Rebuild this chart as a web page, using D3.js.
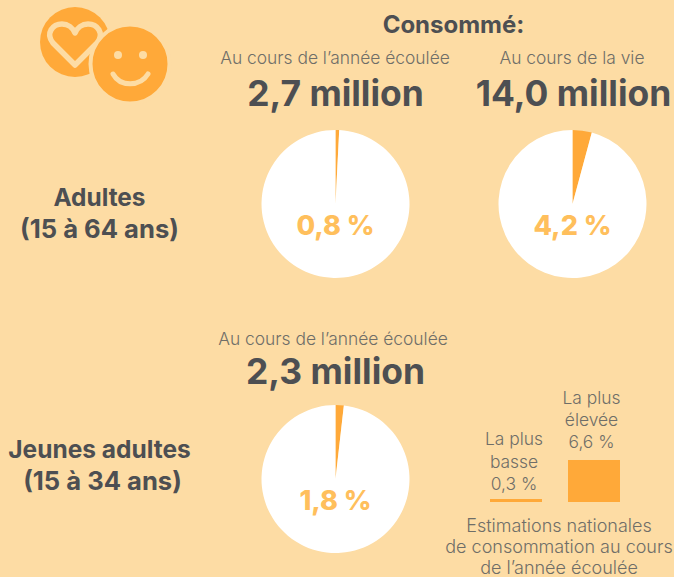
<!DOCTYPE html>
<html lang="fr">
<head>
<meta charset="utf-8">
<style>
html, body { margin: 0; padding: 0; background: #fddca4; }
svg { display: block; }
text { font-family: Inter, "Noto Sans", sans-serif; }
</style>
<script src="https://cdn.jsdelivr.net/npm/d3@7"></script>
</head>
<body>
<div id="chart"></div>
<script>
const pieValues = [0.8, 4.2, 1.8];
const pieLabels = ["0,8 %", "4,2 %", "1,8 %"];
const pieCenters = [[335.5, 204], [572.5, 204], [335.5, 479]];
const headings = ["Au cours de l’année écoulée", "Au cours de la vie", "Au cours de l’année écoulée"];
const totals = ["2,7 million", "14,0 million", "2,3 million"];
const rangeValues = [0.3, 6.6];
const rangeLabels = [["La plus", "basse", "0,3 %"], ["La plus", "élevée", "6,6 %"]];

const width = 674, height = 577;
const orange = "#ffa939", labelOrange = "#ffbf5c", bg = "#fddca4", dark = "#4d4f52", grey = "#6f6e68";

const svg = d3.select("#chart").append("svg")
    .attr("width", width)
    .attr("height", height)
    .attr("viewBox", [0, 0, width, height]);

// icon: heart bubble behind smiley
const icon = svg.append("g");
icon.append("circle").attr("cx", 75).attr("cy", 42).attr("r", 35).attr("fill", orange);
icon.append("path")
    .attr("d", "M75 65 L53 43 C45 33 53 24 62 24 C68 24 73 28 75 33 C77 28 82 24 88 24 C97 24 105 33 97 43 Z")
    .attr("fill", orange)
    .attr("stroke", bg)
    .attr("stroke-width", 5.5)
    .attr("stroke-linejoin", "round");
icon.append("circle").attr("cx", 130).attr("cy", 64).attr("r", 39.5)
    .attr("fill", orange).attr("stroke", bg).attr("stroke-width", 4);
icon.selectAll(".eye").data([118, 143]).join("circle")
    .attr("cx", d => d).attr("cy", 55).attr("r", 4).attr("fill", bg);
icon.append("path")
    .attr("d", "M113 74 C120 87 140 87 148 74")
    .attr("fill", "none").attr("stroke", bg).attr("stroke-width", 5).attr("stroke-linecap", "round");

const textAt = (x, y, str, size, weight, fill) => svg.append("text")
    .attr("x", x).attr("y", y)
    .attr("text-anchor", "middle")
    .attr("font-size", size)
    .attr("font-weight", weight)
    .attr("fill", fill)
    .text(str);

textAt(453.5, 33, "Consommé:", 24, 700, dark);

// column headings and big totals
const headingPos = [[335, 64], [572, 64], [333, 345]];
const totalPos = [[335.5, 106], [573.5, 106], [335.5, 384]];
headings.forEach((h, i) => textAt(headingPos[i][0], headingPos[i][1], h, 17.4, 300, grey));
totals.forEach((t, i) => textAt(totalPos[i][0], totalPos[i][1], t, 35.4, 700, dark));

// row labels
textAt(99.5, 206, "Adultes", 24.4, 700, dark);
textAt(99.5, 238, "(15 à 64 ans)", 25.6, 700, dark);
textAt(99.5, 458, "Jeunes adultes", 24.5, 700, dark);
textAt(102.5, 490, "(15 à 34 ans)", 25.6, 700, dark);

// pies
const pie = d3.pie().sort(null);
const arc = d3.arc().innerRadius(0).outerRadius(74);

pieValues.forEach((v, i) => {
    const g = svg.append("g")
        .attr("transform", `translate(${pieCenters[i][0]},${pieCenters[i][1]})`);
    g.selectAll("path")
        .data(pie([v, 100 - v]))
        .join("path")
        .attr("d", arc)
        .attr("fill", (d, j) => j === 0 ? orange : "#ffffff");
    g.append("text")
        .attr("y", 31)
        .attr("text-anchor", "middle")
        .attr("font-size", 27)
        .attr("font-weight", 800)
        .attr("fill", labelOrange)
        .text(pieLabels[i]);
});

// lowest / highest national estimates
const h = d3.scaleLinear().domain([0, 6.6]).range([0, 42]);
const barLeft = [490, 568];
svg.selectAll(".range")
    .data(rangeValues)
    .join("rect")
    .attr("x", (d, i) => barLeft[i])
    .attr("y", d => 502 - Math.max(3, h(d)))
    .attr("width", 52)
    .attr("height", d => Math.max(3, h(d)))
    .attr("fill", orange);

const rangeTop = [[514, 445], [591.5, 404]];
rangeLabels.forEach((lines, i) => {
    lines.forEach((l, j) => textAt(rangeTop[i][0], rangeTop[i][1] + j * (i === 0 ? 22.5 : 22), l, 17.4, 300, grey));
});

["Estimations nationales", "de consommation au cours", "de l’année écoulée"]
    .forEach((l, i) => textAt(559, 532 + i * 21.2, l, 18, 300, grey));
</script>
</body>
</html>
